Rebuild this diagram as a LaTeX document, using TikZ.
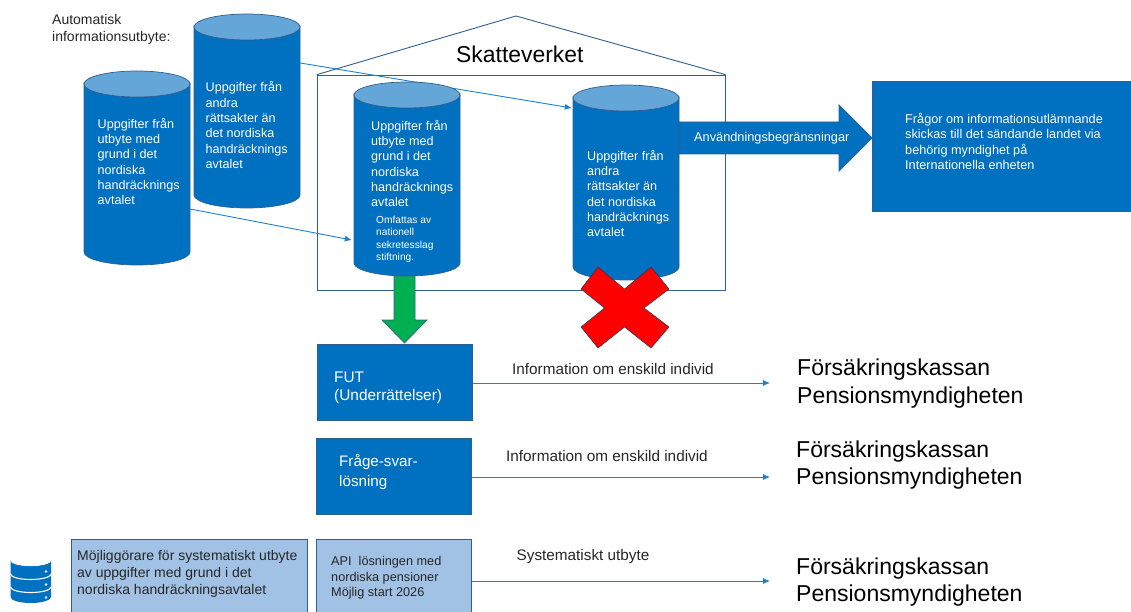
\documentclass[tikz,border=0pt]{standalone}
\usepackage{fontspec}
\setmainfont{Liberation Sans}
\usetikzlibrary{calc,arrows.meta}
\definecolor{mainblue}{HTML}{0070C0}
\definecolor{edgeblue}{HTML}{2F5F8F}
\definecolor{topblue}{HTML}{65A6D9}
\definecolor{paleblue}{HTML}{A2C2E5}
\definecolor{linkblue}{HTML}{1F80CC}
\definecolor{txtgrey}{HTML}{262626}
\definecolor{greenarrow}{HTML}{00B050}
\tikzset{
  cylbox/.style={inner sep=0pt,minimum width=106pt,draw=none},
  celltext/.style={anchor=north west,inner sep=0pt,align=left,text=white,font=\fontsize{12.6}{15.3}\selectfont},
  smalltext/.style={anchor=north west,inner sep=0pt,align=left,text=white,font=\fontsize{10.2}{12.5}\selectfont},
  boxblue/.style={draw=edgeblue,fill=mainblue,line width=0.8pt,inner sep=0pt,anchor=north west},
  boxpale/.style={draw=edgeblue,fill=paleblue,line width=0.8pt,inner sep=0pt,anchor=north west},
  lbl/.style={anchor=north west,inner sep=0pt,align=left,text=txtgrey,font=\fontsize{14}{17}\selectfont},
  midlbl/.style={anchor=north west,inner sep=0pt,align=left,text=txtgrey,font=\fontsize{15.3}{18}\selectfont},
  biglbl/.style={anchor=north west,inner sep=0pt,align=left,text=black,font=\fontsize{23}{27.5}\selectfont},
  link/.style={draw=linkblue,line width=0.9pt,-{Latex[length=7pt,width=6pt]}},
  house/.style={draw=edgeblue,line width=0.9pt}
}
% name, left, top, bottom
\newcommand{\cylshape}[4]{%
  \node[cylbox,minimum height={#4-#3}] (#1) at ({#2+53},{(#3+#4)/2}) {};
  \path[draw=edgeblue,fill=mainblue,line width=0.7pt]
    (#2,#3+13) -- (#2,#4-13) arc[start angle=180,end angle=360,x radius=53,y radius=-13]
    -- (#2+106,#3+13) arc[start angle=0,end angle=180,x radius=53,y radius=13] -- cycle;
  \path[draw=edgeblue,fill=topblue,line width=0.7pt]
    (#2+53,#3+13) ellipse[x radius=53,y radius=13];
}
\begin{document}
\begin{tikzpicture}[x=1pt,y=-1pt]
\useasboundingbox (0,0) rectangle (1131,612);
% house
\node[house,inner sep=0pt,minimum width=408pt,minimum height=215pt,anchor=north west] (hus) at (316.7,74.7) {};
\coordinate (apex) at (516,16);
\draw[house] (hus.north west) -- (apex) -- (hus.north east);
\node[anchor=north west,inner sep=0pt,font=\fontsize{22.9}{26}\selectfont] (skv) at (456,46) {Skatteverket};
\cylshape{cb}{194}{14}{208}
\cylshape{ca}{84}{71}{265}
\cylshape{cd}{573}{85}{280}
\draw[link] ([yshift=48pt]cb.east) -- ([xshift=-1pt,yshift=74.5pt]cd.west);
\cylshape{cc}{354}{82}{276}
\draw[link] ([yshift=-41pt]ca.east) -- ([xshift=-2pt,yshift=-61pt]cc.west);
% cylinder texts
\node[lbl] (auto) at (52,14.5) {Automatisk\\informationsutbyte:};
\node[celltext] (ta) at (97.5,118) {Uppgifter från\\utbyte med\\grund i det\\nordiska\\handräcknings\\avtalet};
\node[celltext] (tb) at (205.5,81.5) {Uppgifter från\\andra\\rättsakter än\\det nordiska\\handräcknings\\avtalet};
\node[celltext] (tc) at (371,120) {Uppgifter från\\utbyte med\\grund i det\\nordiska\\handräcknings\\avtalet};
\node[smalltext] (tc2) at (376,215.5) {Omfattas av\\nationell\\sekretesslag\\stiftning.};
\node[celltext] (td) at (587,150) {Uppgifter från\\andra\\rättsakter än\\det nordiska\\handräcknings\\avtalet};
% big arrow
\node[boxblue,minimum width=259pt,minimum height=130pt] (fragor) at (872,81) {};
\path[draw=edgeblue,fill=mainblue,line width=0.8pt]
  (cd.east |- 0,122) -- (839,122) -- (839,105) -- (fragor.west |- 0,138) -- (839,171) -- (839,154) -- (cd.east |- 0,154) -- cycle;
\node[anchor=north west,inner sep=0pt,text=white,font=\fontsize{12.75}{15}\selectfont] (anv) at (694,132) {Användningsbegränsningar};
\node[anchor=north west,inner sep=0pt,align=left,text=white,font=\fontsize{12.7}{15.3}\selectfont] (fragtxt) at (905,113) {Frågor om informationsutlämnande\\skickas till det sändande landet via\\behörig myndighet på\\Internationella enheten};
% boxes
\node[boxblue,minimum width=155pt,minimum height=76pt] (fut) at (317,344) {};
\node[anchor=north west,inner sep=0pt,align=left,text=white,font=\fontsize{15.4}{18.5}\selectfont] (futt) at (334,371.5) {FUT\\(Underrättelser)};
\node[boxblue,minimum width=155pt,minimum height=76pt] (fs) at (316,438) {};
\node[anchor=north west,inner sep=0pt,align=left,text=white,font=\fontsize{15.2}{19.5}\selectfont] (fst) at (339,454.5) {Fråge-svar-\\lösning};
\node[boxpale,minimum width=155pt,minimum height=74pt] (api) at (316,539) {};
\node[lbl,font=\fontsize{12.7}{15.3}\selectfont] (apit) at (331,556.5) {API\ \ lösningen med\\nordiska pensioner\\Möjlig start 2026};
\node[boxpale,minimum width=236pt,minimum height=74pt] (moj) at (71,539) {};
\node[lbl] (mojt) at (77,550) {Möjliggörare för systematiskt utbyte\\av uppgifter med grund i det\\nordiska handräckningsavtalet};
% green arrow
\path[draw=edgeblue,fill=greenarrow,line width=0.7pt]
  (394,276) -- (415,276) -- (415,320) -- (427,320) -- (404.5,343) -- (382,320) -- (394,320) -- cycle;
% red cross
\path[draw=edgeblue!60!black,fill=red,line width=0.5pt]
  (598,267) -- (624.5,289) -- (651,267) -- (669,289) -- (644,308) -- (669,327) -- (651,348) -- (624.5,327) -- (598,348) -- (581,327) -- (604.5,308) -- (581,289) -- cycle;
% right side
\node[biglbl] (f1) at (797,359) {Försäkringskassan\\Pensionsmyndigheten};
\node[biglbl] (f2) at (796,440.5) {Försäkringskassan\\Pensionsmyndigheten};
\node[biglbl] (f3) at (796,557.5) {Försäkringskassan\\Pensionsmyndigheten};
\coordinate (e1) at (770,383);
\coordinate (e2) at (770,477);
\coordinate (e3) at (770,581);
\draw[link] (fut.east |- e1) -- (e1);
\draw[link] (fs.east |- e2) -- (e2);
\draw[link] (api.east |- e3) -- (e3);
\node[midlbl] (i1) at (512,363.5) {Information om enskild individ};
\node[midlbl] (i2) at (506,450) {Information om enskild individ};
\node[midlbl] (i3) at (516.5,549) {Systematiskt utbyte};
% database icon
\path[fill=mainblue] (10.5,560) -- (10.5,597) arc[start angle=180,end angle=360,x radius=20.25,y radius=-6] -- (51,560) arc[start angle=0,end angle=180,x radius=20.25,y radius=6] -- cycle;
\draw[white,line width=1.1pt] (10.5,560) arc[start angle=180,end angle=360,x radius=20.25,y radius=-5.5];
\draw[white,line width=1.1pt] (10.5,574) arc[start angle=180,end angle=360,x radius=20.25,y radius=-5.5];
\draw[white,line width=1.1pt] (10.5,587) arc[start angle=180,end angle=360,x radius=20.25,y radius=-5.5];
\fill[white] (46,571.5) circle[radius=1.3] (46,584.5) circle[radius=1.3] (46,597.5) circle[radius=1.3];
\end{tikzpicture}
\end{document}
